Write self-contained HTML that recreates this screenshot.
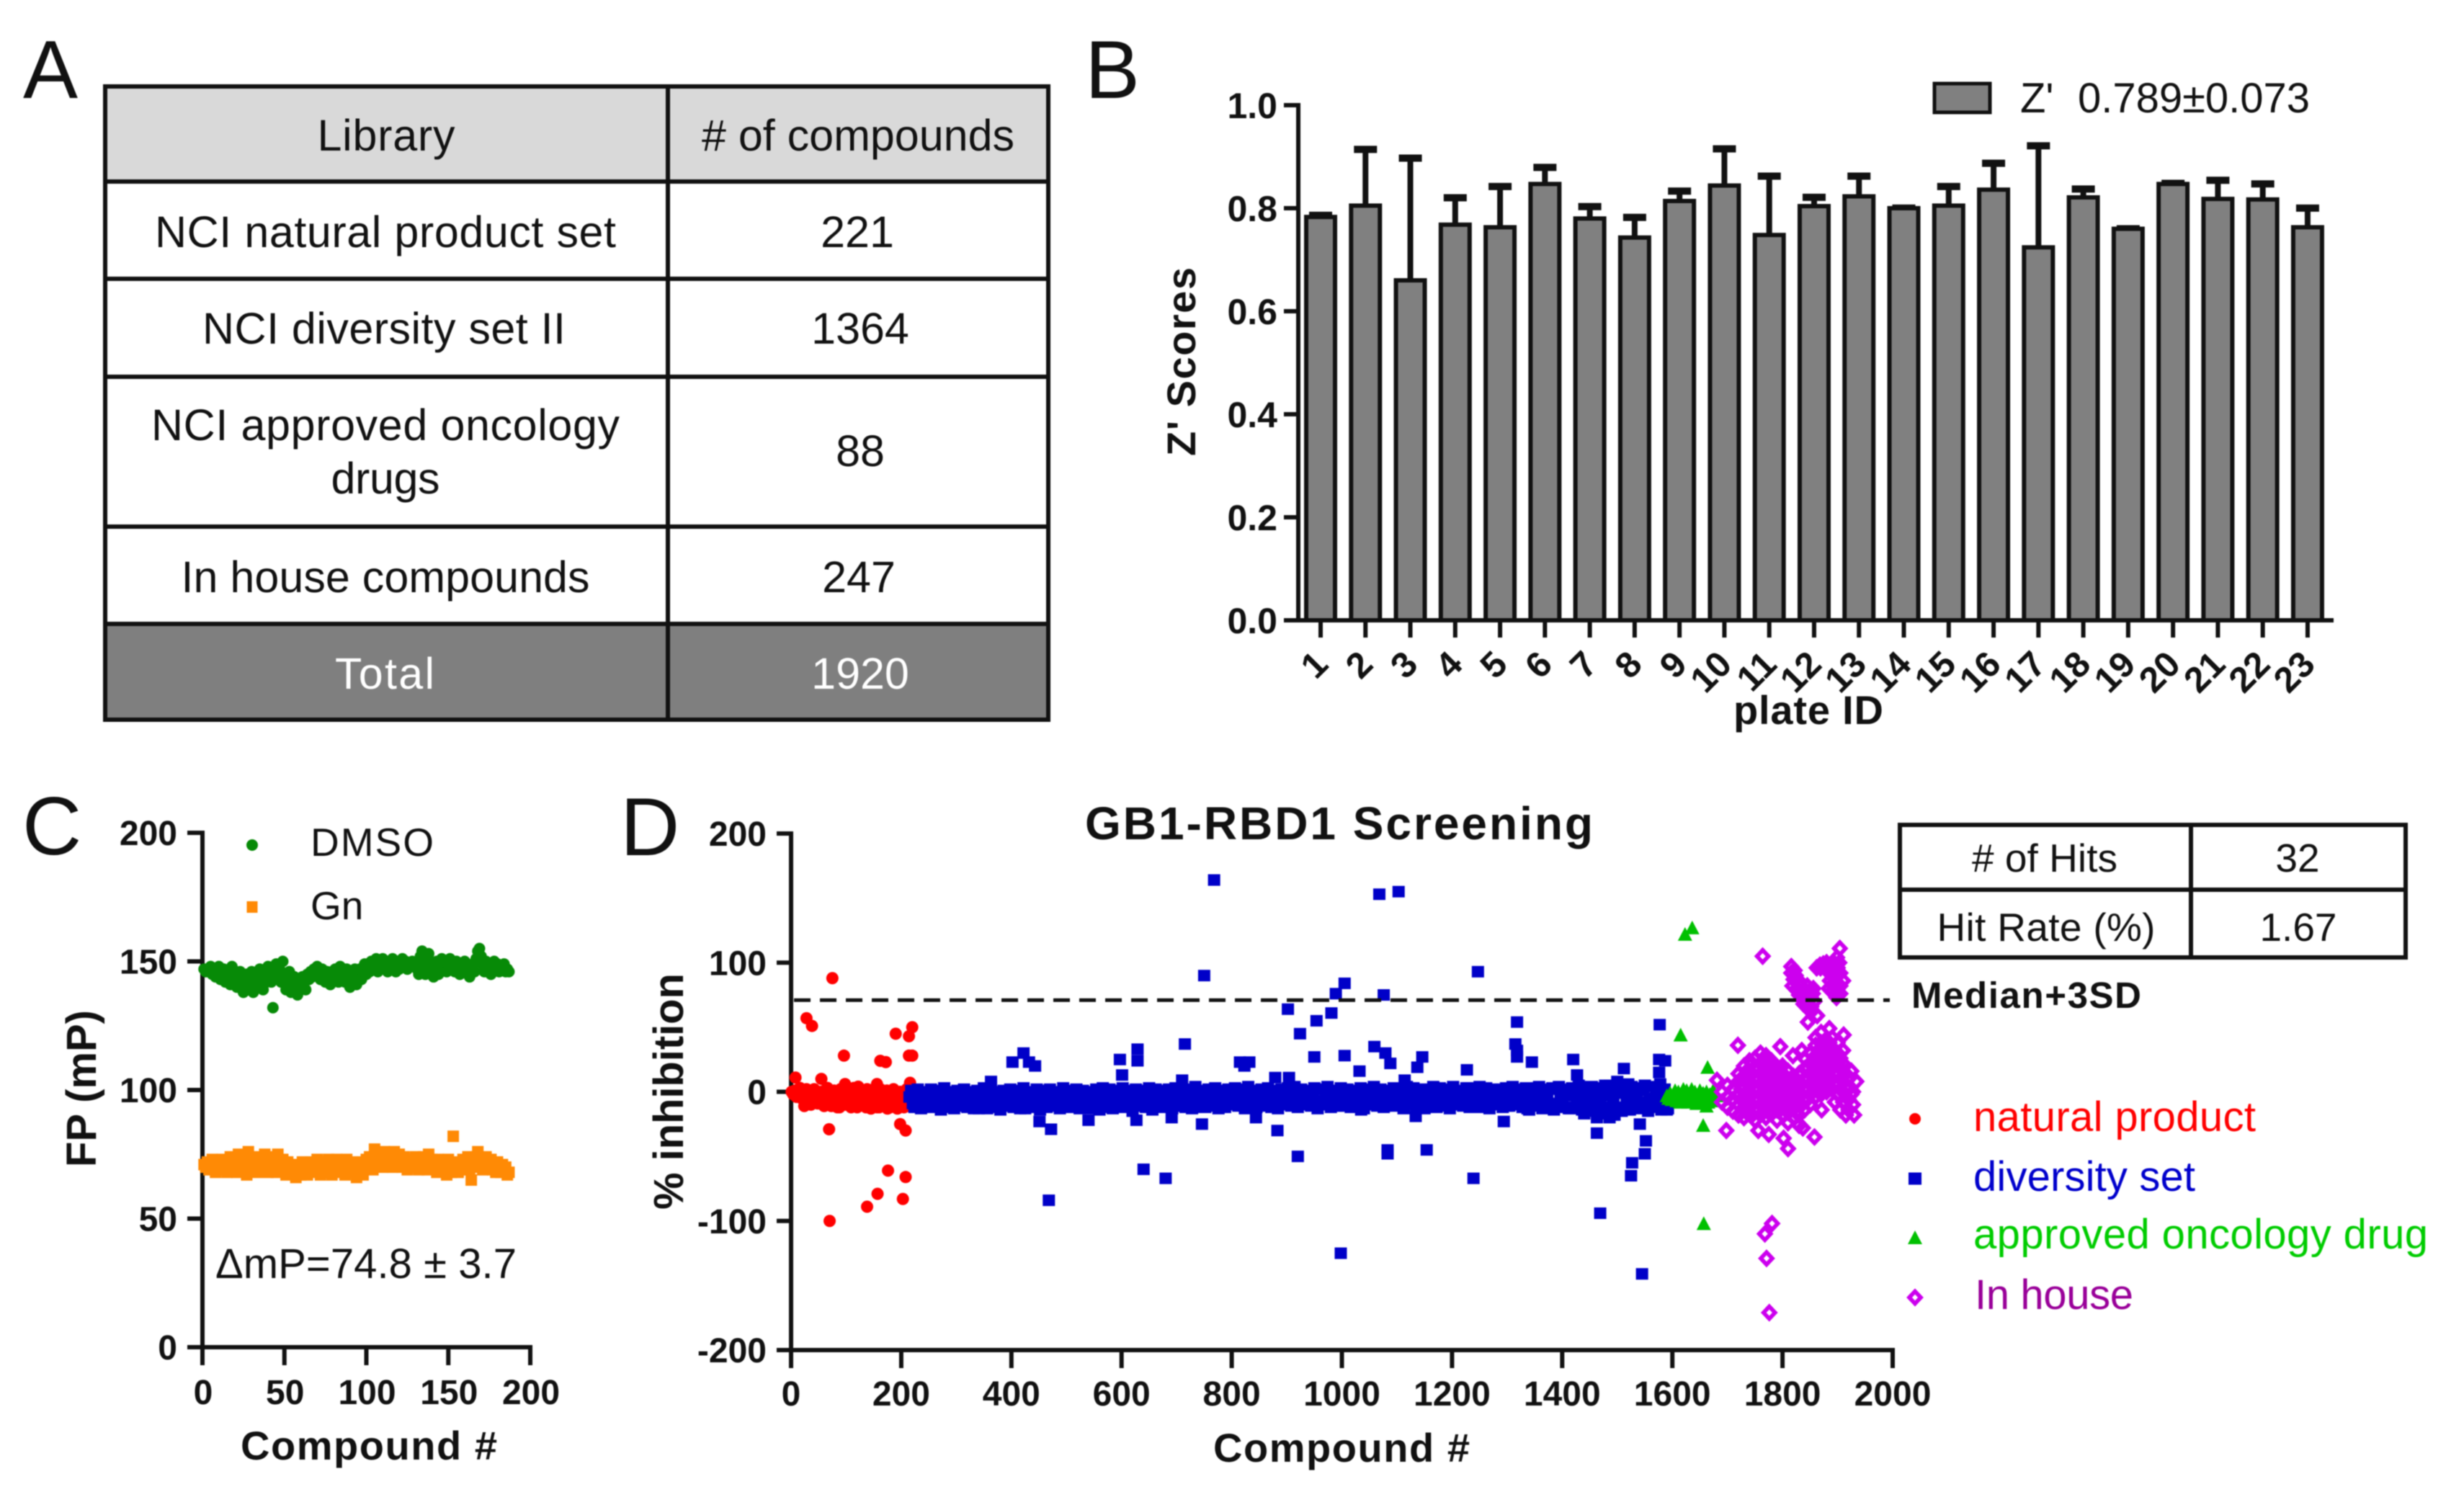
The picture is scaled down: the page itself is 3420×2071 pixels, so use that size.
<!DOCTYPE html>
<html lang="en">
<head>
<meta charset="utf-8">
<title>GB1-RBD1 screening figure</title>
<style>
html,body{margin:0;padding:0;background:#fff;width:3420px;height:2071px;overflow:hidden}
svg{display:block;filter:blur(.8px)}
text{font-family:"Liberation Sans",Arial,sans-serif;fill:#111}
.b{font-weight:bold}
.t{font-size:61px;text-anchor:middle}
.panel{font-size:114px}
</style>
</head>
<body>
<svg id="fig" xmlns="http://www.w3.org/2000/svg" width="3420" height="2071" viewBox="0 0 3420 2071">
<rect width="3420" height="2071" fill="#fff"/>

<text class="panel" x="32" y="136">A</text>
<text class="panel" x="1506" y="136">B</text>
<text class="panel" x="31" y="1186">C</text>
<text class="panel" x="861" y="1187">D</text>

<g>
  <rect x="143" y="117" width="1314" height="135" fill="#d9d9d9"/>
  <rect x="143" y="866" width="1314" height="134" fill="#7f7f7f"/>
  <g stroke="#111" stroke-width="6" fill="none">
    <rect x="146" y="120" width="1309" height="879"/>
    <line x1="927" y1="117" x2="927" y2="1002"/>
    <line x1="143" y1="252" x2="1457" y2="252"/>
    <line x1="143" y1="387" x2="1457" y2="387"/>
    <line x1="143" y1="523" x2="1457" y2="523"/>
    <line x1="143" y1="731" x2="1457" y2="731"/>
    <line x1="143" y1="866" x2="1457" y2="866"/>
  </g>
  <text class="t" x="536" y="209" textLength="191">Library</text>
  <text class="t" x="1191" y="209" textLength="434"># of compounds</text>
  <text class="t" x="535" y="343" textLength="640">NCI natural product set</text>
  <text class="t" x="1190" y="343">221</text>
  <text class="t" x="533" y="477" textLength="504">NCI diversity set II</text>
  <text class="t" x="1194" y="477">1364</text>
  <text class="t" x="535" y="611" textLength="650">NCI approved oncology</text>
  <text class="t" x="535" y="685" textLength="151">drugs</text>
  <text class="t" x="1194" y="647">88</text>
  <text class="t" x="535" y="822" textLength="567">In house compounds</text>
  <text class="t" x="1192" y="822">247</text>
  <text class="t" x="534" y="956" textLength="138" style="fill:#fff">Total</text>
  <text class="t" x="1194" y="956" style="fill:#fff">1920</text>
</g>

<g id="chartB">
  <rect x="2685" y="116" width="77" height="40" fill="#808080" stroke="#111" stroke-width="5"/>
  <text x="2804" y="156" font-size="58">Z'</text>
  <text x="2884" y="156" font-size="58" textLength="322">0.789±0.073</text>
  <text class="b" transform="translate(1659,502) rotate(-90)" text-anchor="middle" font-size="56" textLength="262">Z' Scores</text>
  <text class="b" x="2510" y="1005" text-anchor="middle" font-size="56" textLength="208">plate ID</text>
</g>

<g id="chartC">
  <text class="b" transform="translate(133,1511) rotate(-90)" text-anchor="middle" font-size="58" textLength="218">FP (mP)</text>
  <text class="b" x="512" y="2026" text-anchor="middle" font-size="56" textLength="356">Compound #</text>
  <text x="431" y="1188" font-size="55" textLength="171">DMSO</text>
  <text x="431" y="1276" font-size="55">Gn</text>
  <text x="299" y="1774" font-size="58" textLength="418">ΔmP=74.8 ± 3.7</text>
</g>

<g id="chartD">
  <text class="b" x="1506" y="1165" font-size="64" textLength="705">GB1-RBD1 Screening</text>
  <text class="b" transform="translate(948,1515) rotate(-90)" text-anchor="middle" font-size="58" textLength="328">% inhibition</text>
  <text class="b" x="1862" y="2029" text-anchor="middle" font-size="56" textLength="356">Compound #</text>
  <text class="b" x="2653" y="1399" font-size="51" textLength="319">Median+3SD</text>
  <text x="2739" y="1570" font-size="58" textLength="392" style="fill:#ff0000">natural product</text>
  <text x="2739" y="1653" font-size="58" textLength="308" style="fill:#0000cc">diversity set</text>
  <text x="2739" y="1733" font-size="58" textLength="631" style="fill:#00cc00">approved oncology drug</text>
  <text x="2741" y="1817" font-size="58" textLength="220" style="fill:#990099">In house</text>
</g>

<g>
  <g stroke="#111" stroke-width="6" fill="none">
    <rect x="2637" y="1145" width="702" height="184"/>
    <line x1="3041" y1="1143" x2="3041" y2="1331"/>
    <line x1="2635" y1="1235" x2="3341" y2="1235"/>
  </g>
  <text x="2838" y="1210" text-anchor="middle" font-size="55" textLength="202"># of Hits</text>
  <text x="3189" y="1210" text-anchor="middle" font-size="55">32</text>
  <text x="2840" y="1306" text-anchor="middle" font-size="55" textLength="303">Hit Rate (%)</text>
  <text x="3190" y="1306" text-anchor="middle" font-size="55">1.67</text>
</g>
</svg>

<script>
// ---------- Panel B data ----------
const plateIds = ['1','2','3','4','5','6','7','8','9','10','11','12','13','14','15','16','17','18','19','20','21','22','23'];
const zScores = [.783,.805,.66,.768,.763,.847,.78,.743,.814,.844,.748,.804,.823,.80,.805,.836,.724,.821,.76,.847,.818,.817,.763];
const zErrors = [.006,.112,.24,.055,.082,.035,.026,.042,.022,.074,.117,.02,.042,.003,.04,.054,.2,.019,.003,.004,.039,.033,.04];
const zTickValues = [0,.2,.4,.6,.8,1];
const zTickLabels = ['0.0','0.2','0.4','0.6','0.8','1.0'];

// ---------- Panel C data ----------
const cTickValues = [0,50,100,150,200];
const cTickLabels = ['0','50','100','150','200'];
const dmsoValues = [
147,146,147,146,148,145,147,144,146,148,
143,145,147,142,144,146,141,148,143,145,
140,143,146,141,138,144,145,139,142,146,
138,141,144,140,147,143,139,145,142,148,
144,142,132,146,149,143,147,142,150,145,
139,143,146,138,141,144,140,137,143,141,
144,142,139,145,143,146,144,147,145,148,
146,143,147,145,142,146,144,141,146,143,
147,145,142,148,144,146,142,147,144,140,
146,143,147,141,145,147,143,146,149,145,
148,146,150,147,149,151,146,149,147,151,
148,150,146,149,147,151,148,146,150,147,
149,151,148,150,147,149,148,150,148,149,
147,145,152,154,149,145,150,153,146,148,
144,147,150,145,149,151,147,150,146,149,
151,147,149,146,150,148,145,149,147,150,
146,148,144,147,149,146,151,154,155,152,
149,146,150,147,149,145,148,150,147,149,
146,148,147,149,146,147,146];
const gnValues = [
71,70,72,69,71,73,70,68,72,71,
69,73,70,72,68,71,74,70,69,72,
68,75,71,69,74,70,67,76,72,69,
73,71,68,74,70,72,69,75,71,68,
73,70,74,72,68,75,71,69,73,70,
67,72,70,68,71,69,66,71,70,67,
72,69,71,67,70,72,68,71,69,73,
70,67,72,69,71,68,73,70,67,72,
69,73,71,68,72,70,67,73,69,71,
68,72,70,66,71,69,72,67,71,73,
70,74,72,69,77,74,71,75,73,70,
76,72,75,71,74,70,76,73,71,75,
72,70,74,71,69,73,71,72,70,74,
71,69,73,70,74,72,69,75,71,73,
70,72,68,73,71,69,72,70,67,73,
71,68,82,70,72,68,71,69,73,70,
71,74,69,65,72,70,74,76,73,71,
69,72,74,70,71,73,69,71,68,72,
70,68,71,69,70,67,68];

// ---------- Panel D data ----------
const dYTickValues = [-200,-100,0,100,200];
const dYTickLabels = ['-200','-100','0','100','200'];
const dXTickValues = [0,200,400,600,800,1000,1200,1400,1600,1800,2000];
const dXTickLabels = ['0','200','400','600','800','1000','1200','1400','1600','1800','2000'];
const thresholdValue = 71;

const naturalBandFirstCompound = 1;
const naturalBandCompoundStep = 3;
const naturalBandValues = [
0,-2,1,-4,-1,3,-5,-2,-6,2,
-7,0,-3,-8,1,-5,-9,-2,-6,-10,
-4,2,-8,-3,-11,-6,-1,-9,-4,-12,
-2,-7,3,-10,-5,-1,-12,-6,-9,-3,
-11,-7,1,-10,-5,-12,-2,-8,-13,-4,
2,-9,-6,-12,-3,-10,-7,-1,-13,-5,
-9,-2,-11,-7,-13,-4,-10,-6,-12,-3,
-8,-11];
const naturalRimFirstCompound = 24;
const naturalRimCompoundStep = 6;
const naturalRimValues = [
-11,1,-10,2,-9,0,-11,3,-10,1,
-12,2,-10,0,-11,3,-12,1,-10,2,
-11,0,-12,2,-10,1,-12,2,-11,0,
-10,2];
const naturalOutlierCompounds = [
75,28,38,55,8,96,162,172,190,220,
214,214,220,216,98,122,156,69,198,208,
176,208,157,203,138,70];
const naturalOutlierValues = [
88,57,51,10,11,28,24,23,45,50,
43,28,28,7,6,4,6,-29,-25,-30,
-61,-66,-79,-83,-89,-100];

const diversityBandFirstCompound = 215;
const diversityBandCompoundStep = 6;
const diversityBandValues = [
-4,-9,-2,-11,-6,-1,-8,-12,-3,-7,
-10,-2,-5,-12,-1,-8,-4,-11,-6,-2,
-9,-13,-3,-7,1,-10,-5,-12,-2,-8,
-4,-11,-7,-1,-9,-13,-3,-6,-10,0,
-8,-12,-2,-5,-11,-4,-9,-1,-7,-12,
-3,-10,-6,0,-8,-13,-2,-5,-11,-7,
-1,-9,-4,-12,-2,-7,1,-10,-5,-11,
-3,-8,0,-6,-12,-2,-9,-4,-10,1,
-7,-11,-3,-6,-1,-9,-5,-12,0,-8,
-2,-10,-4,-7,1,-11,-3,-6,-9,-1,
-5,-10,-2,-8,0,-12,-4,-7,-1,-9,
-3,-11,-6,1,-8,-2,-10,-5,-1,-7,
0,-9,-3,-7,2,-10,-4,-8,-1,-6,
1,-11,-3,-5,-9,0,-7,-2,-10,-4,
2,-8,-1,-6,-11,-3,1,-9,-5,-2,
-7,0,-10,-4,-1,-8,2,-6,-3,-11,
-2,-7,1,-9,-4,0,-6,-10,-2,3,
-8,-3,-5,-12,1,-7,-1,-9,-4,2,
-6,-11,0,-3,-8,1,-5,-13,-2,-7,
3,-10,-4,-1,-9,-14,2,-6,-12,-3,
-13,0,-8,4,-5,-14,-2,-10,1,-7,
-15,-3,5,-9,-1,-12,3,-6,-14,-4,
-2,-10,1,-8,-5,-12,-3,-7,-11,-6];
const diversityUpperRimFirstCompound = 218;
const diversityUpperRimCompoundStep = 12;
const diversityUpperRimValues = [
1,2,0,2,1,3,0,1,2,0,
1,3,2,0,1,2,1,3,0,2,
1,2,0,3,1,2,1,0,2,3,
2,1,3,0,2,1,3,2,1,2,
3,1,2,4,1,2,3,1,2,3,
2,4,1,2,3,1,2,3,4,2,
1,3,2,4,1,3,2,1,3,2,
4,2,1,3,2,4,3,1,2,4,
3,2,4,1,3,2,4,3,2,1,
3,4,2,3,1,4,2,3,4,2,
3,5,2,4,3,5,4,3,2,4,
3,5,4,3,2];
const diversityLowerRimFirstCompound = 224;
const diversityLowerRimCompoundStep = 12;
const diversityLowerRimValues = [
-12,-13,-11,-12,-14,-12,-13,-11,-12,-13,
-11,-13,-12,-14,-11,-12,-13,-11,-12,-14,
-12,-11,-13,-12,-11,-13,-12,-11,-14,-12,
-13,-11,-12,-13,-11,-12,-14,-11,-12,-13,
-11,-12,-13,-10,-12,-11,-13,-12,-10,-11,
-13,-12,-10,-11,-12,-13,-10,-11,-12,-10,
-11,-13,-10,-12,-11,-10,-12,-11,-13,-10,
-11,-12,-10,-11,-13,-10,-12,-11,-10,-12,
-11,-13,-10,-11,-12,-10,-11,-13,-10,-12,
-11,-10,-12,-14,-11,-13,-10,-12,-11,-13,
-12,-14,-13,-15,-12,-14,-13,-15,-14,-12,
-13,-15,-12,-14,-13];
const diversityOutlierCompounds = [
768,750,402,422,432,443,363,597,601,629,
629,715,710,815,823,468,472,451,540,627,
640,680,691,746,1068,1103,1247,1005,989,1076,
902,981,954,924,1318,1577,1315,1318,1318,1059,
1079,1088,950,1005,832,1146,1137,1227,1345,1420,
1576,1587,1576,1512,1427,1032,879,904,1114,883,
920,1083,1083,1154,1239,1463,1469,998,1545,1541,
1552,1550,1527,1525,1294,1463,1486,1440,844,1134,
1500,1520,1578,1590,1475,1495,1340,1150,1035,620];
const diversityOutlierValues = [
164,90,23,30,23,20,8,25,13,33,
24,37,9,23,20,-84,-29,-23,-22,-22,
-60,-67,-20,-25,153,155,93,84,76,75,
64,61,55,45,54,52,37,32,27,35,
30,22,27,28,23,27,19,17,23,25,
25,24,15,18,13,16,11,11,9,-30,
-50,-48,-45,-45,-67,-32,-94,-125,-141,-25,
-38,-48,-55,-65,-23,-20,-20,-17,-20,-19,
8,6,6,-14,-17,-18,-14,-13,-14,-15];

const oncologyBandFirstCompound = 1590;
const oncologyBandCompoundStep = 3;
const oncologyBandValues = [
-3,-5,-1,-6,-2,1,-7,0,-8,-3,
2,-7,1,-8,-2,2,-7,0,-9,-3,
1,-8,-1,-7,0,-8,-2,-6,1,-7,-3];
const oncologyOutlierCompounds = [1636,1623,1615,1664,1656,1657,1662];
const oncologyOutlierValues = [127,122,44,19,-26,-102,-11];

const inHouseCompounds = [
1764,1904,1816,1863,1846,1719,1796,1681,1698,1756,
1775,1802,1810,1837,1858,1871,1930,1781,1768,1771,
1776,1819,1835,1885,1911,1910,1925,1934,
1869,1878,1886,1893,1899,1905,1910,1900,1893,1886,1905,1898,1895,
1816,1820,1824,1818,1826,1832,1830,1836,1840,1845,1838,1845,1850,1852,1858,1856,
1885,1890,1895,1900,1905,1890,1897,1903,1884,1893,
1862,1868,1874,1880,
1822,1828,1834,1840,1846,1852,1835,1843,1849,1855,
1865,1875,1885,1895,1905,1915,1925,1915,1905,1895,
1690,1690,
1700,1700,1700,
1710,1710,1710,
1720,1720,1720,1720,1720,
1730,1730,1730,1730,1730,1730,
1740,1740,1740,1740,1740,1740,
1750,1750,1750,1750,1750,1750,1750,
1760,1760,1760,1760,1760,1760,1760,
1770,1770,1770,1770,1770,1770,1770,
1780,1780,1780,1780,1780,1780,
1790,1790,1790,1790,1790,1790,
1800,1800,1800,1800,1800,1800,
1810,1810,1810,1810,1810,1810,
1820,1820,1820,1820,1820,
1830,1830,1830,1830,1830,1830,
1840,1840,1840,1840,1840,1840,
1850,1850,1850,1850,1850,1850,
1860,1860,1860,1860,1860,1860,1860,
1870,1870,1870,1870,1870,1870,1870,
1880,1880,1880,1880,1880,1880,
1890,1890,1890,1890,1890,1890,
1900,1900,1900,1900,1900,1900,
1910,1910,1910,1910,
1920,1920,1920,1920,
1928,1928,
1725,1725,1725,
1735,1735,1735,1735,1735,
1745,1745,1745,1745,1745,1745,
1755,1755,1755,1755,1755,
1765,1765,1765,1765,1765,1765,
1775,1775,1775,1775,1775,1775,
1785,1785,1785,1785,1785,
1795,1795,1795,1795,1795,
1805,1805,1805,1805,
1815,1815,1815,1815,
1825,1825,1825,1825,
1835,1835,1835,1835,
1845,1845,1845,1845,
1855,1855,1855,1855,
1865,1865,1865,1865,
1875,1875,1875,1875,
1885,1885,1885,1885,
1895,1895,1895,
1905,1905,1905];
const inHouseValues = [
105,111,97,59,54,36,35,9,-30,-30,
-33,-36,-44,-28,-35,-14,-18,-102,-110,-129,
-171,28,32,49,44,32,16,8,
96,98,95,100,104,92,86,80,88,86,76,73,92,
92,87,90,82,80,85,75,78,72,82,68,65,74,62,70,80,
92,98,85,96,82,78,76,100,80,82,
96,98,99,100,
94,84,82,76,70,66,72,74,78,76,
8,10,30,14,26,14,-2,-18,-14,-8,
0,-8,
5,-4,-12,
-15,-6,2,
-18,-10,-2,8,14,
-20,-12,-4,4,12,20,
-16,-8,0,8,16,24,
-22,-14,-6,2,10,18,26,
-18,-10,-2,6,14,22,30,
-20,-12,-4,4,12,20,28,
-16,-8,0,8,16,24,
-22,-14,-6,2,10,18,
-18,-10,-2,6,14,20,
-24,-16,-8,0,8,16,
-20,-12,-4,4,12,
-26,-18,-10,-2,6,14,
-14,-6,2,10,18,26,
-10,-2,6,14,22,30,
-4,4,12,20,28,36,42,
-2,6,14,22,30,38,46,
0,8,16,24,32,40,
2,10,18,26,34,42,
-2,6,14,22,30,38,
-8,0,8,22,
-14,-6,2,10,
-10,0,
-6,2,10,
-16,-8,0,8,16,
-18,-10,-2,6,14,22,
-14,-6,2,10,18,
-16,-8,0,8,16,24,
-16,-8,0,8,16,24,
-12,-4,4,12,20,
-14,-6,2,10,18,
-12,-4,4,12,
-14,-6,2,10,
-16,-8,0,8,
-10,-2,6,14,
-6,2,10,18,
0,8,16,24,
0,16,24,32,
2,18,26,34,
4,12,20,38,
6,22,30,
2,10,18];

// ---------- Drawing helpers ----------
const SVG_NS = 'http://www.w3.org/2000/svg';
const INK = '#111';
function shape(parent, tag, attrs) {
  const el = document.createElementNS(SVG_NS, tag);
  for (const k in attrs) el.setAttribute(k, attrs[k]);
  parent.appendChild(el);
  return el;
}
function label(parent, str, x, y, anchor, size, transform) {
  const el = shape(parent, 'text', {x: x, y: y, 'text-anchor': anchor, 'font-size': size, 'font-weight': 'bold'});
  if (transform) el.setAttribute('transform', transform);
  el.textContent = str;
  return el;
}
function rule(parent, x1, y1, x2, y2, width) {
  return shape(parent, 'line', {x1: x1, y1: y1, x2: x2, y2: y2, stroke: INK, 'stroke-width': width || 6});
}
function dot(parent, x, y, r, color) {
  return shape(parent, 'circle', {cx: x, cy: y, r: r, fill: color});
}
function square(parent, x, y, w, h, color) {
  return shape(parent, 'rect', {x: x - w / 2, y: y - h / 2, width: w, height: h, fill: color});
}
function triangle(parent, x, y, color) {
  return shape(parent, 'polygon', {points: (x - 10) + ',' + (y + 9) + ' ' + x + ',' + (y - 10) + ' ' + (x + 10) + ',' + (y + 9), fill: color});
}
function diamond(parent, x, y, color) {
  return shape(parent, 'polygon', {points: (x - 8) + ',' + y + ' ' + x + ',' + (y - 8.5) + ' ' + (x + 8) + ',' + y + ' ' + x + ',' + (y + 8.5), fill: 'none', stroke: color, 'stroke-width': 5.7});
}

// ---------- Panel B ----------
const gB = document.getElementById('chartB');
const bX = i => 1833 + i * 62.27;
const bY = v => 861 - v * 715;
zScores.forEach((v, i) => {
  const errTop = bY(v + zErrors[i]);
  const stem = rule(gB, bX(i), bY(v), bX(i), errTop, 8);
  
  
  const cap = rule(gB, bX(i) - 16, errTop + 2, bX(i) + 16, errTop + 2, 10);
  
  
  const bar = shape(gB, 'rect', {x: bX(i) - 20, y: bY(v), width: 40, height: bY(0) - bY(v), fill: '#808080', stroke: INK, 'stroke-width': 6});
  
  
});
const bYAxis = rule(gB, 1802, bY(1) - 3, 1802, bY(0) + 3);


const bXAxis = rule(gB, 1782, bY(0), 3239, bY(0));


zTickValues.forEach((v, i) => {
  const t = rule(gB, 1782, bY(v), 1802, bY(v));
  
  
  const l = label(gB, zTickLabels[i], 1773, bY(v) + 18, 'end', 50);
  
  
});
plateIds.forEach((id, i) => {
  const t = rule(gB, bX(i), bY(0), bX(i), 885);
  
  
  const ax = bX(i) + 13, ay = 925;
  const l = label(gB, id, ax, ay, 'end', 50, 'rotate(-45 ' + ax + ' ' + ay + ')');
  
  
});

// ---------- Panel C ----------
const gC = document.getElementById('chartC');
const cX = v => 281 + v * 2.275;
const cY = v => 1870 - v * 3.57;
const cYAxis = rule(gC, cX(0), cY(200) - 3, cX(0), cY(0) + 3);


const cXAxis = rule(gC, cX(0), cY(0), cX(200) + 3, cY(0));


cTickValues.forEach((v, i) => {
  const ty = rule(gC, 260, cY(v), cX(0), cY(v));
  
  
  const ly = label(gC, cTickLabels[i], 246, cY(v) + 17, 'end', 48);
  
  
  const tx = rule(gC, cX(v), cY(0), cX(v), 1895);
  
  
  const lx = label(gC, cTickLabels[i], cX(v) + 1, 1949, 'middle', 48);
  
  
});
const GREEN_DARK = '#078a07', ORANGE = '#ff8a05';
dmsoValues.forEach((v, i) => {
  const m = dot(gC, cX(i + 1), cY(v), 8, GREEN_DARK);
  
  
});
gnValues.forEach((v, i) => {
  const m = square(gC, cX(i + 1), cY(v), 16, 16, ORANGE);
  
  
});
const dmsoKey = dot(gC, 350, 1173, 8, GREEN_DARK);


const gnKey = square(gC, 350, 1259, 15, 16, ORANGE);



// ---------- Panel D ----------
const gD = document.getElementById('chartD');
const dX = v => 1098 + v * 0.7645;
const dY = v => 1515.5 - v * 1.7925;
const RED = '#ff0000', BLUE = '#0000c8', GREEN = '#00c000', MAGENTA = '#cc00ee';
const dYAxis = rule(gD, dX(0), dY(200) - 3, dX(0), dY(-200) + 3);


const dXAxis = rule(gD, dX(0), dY(-200), dX(2000) + 3, dY(-200));


dYTickValues.forEach((v, i) => {
  const t = rule(gD, 1078, dY(v), dX(0), dY(v));
  
  
  const l = label(gD, dYTickLabels[i], 1064, dY(v) + 17, 'end', 48);
  
  
});
dXTickValues.forEach((v, i) => {
  const t = rule(gD, dX(v), dY(-200), dX(v), 1899);
  
  
  const l = label(gD, dXTickLabels[i], dX(v), 1951, 'middle', 48);
  
  
});
naturalBandValues.forEach((v, i) => {
  const m = dot(gD, dX(naturalBandFirstCompound + i * naturalBandCompoundStep), dY(v), 8.5, RED);
  
  
});
naturalRimValues.forEach((v, i) => {
  const m = dot(gD, dX(naturalRimFirstCompound + i * naturalRimCompoundStep), dY(v), 8.5, RED);
  
  
});
naturalOutlierValues.forEach((v, i) => {
  const m = dot(gD, dX(naturalOutlierCompounds[i]), dY(v), 8.5, RED);
  
  
});
diversityBandValues.forEach((v, i) => {
  const m = square(gD, dX(diversityBandFirstCompound + i * diversityBandCompoundStep), dY(v), 17, 16, BLUE);
  
  
});
diversityUpperRimValues.forEach((v, i) => {
  const m = square(gD, dX(diversityUpperRimFirstCompound + i * diversityUpperRimCompoundStep), dY(v), 17, 16, BLUE);
  
  
});
diversityLowerRimValues.forEach((v, i) => {
  const m = square(gD, dX(diversityLowerRimFirstCompound + i * diversityLowerRimCompoundStep), dY(v), 17, 16, BLUE);
  
  
});
diversityOutlierValues.forEach((v, i) => {
  const m = square(gD, dX(diversityOutlierCompounds[i]), dY(v), 17, 16, BLUE);
  
  
});
oncologyBandValues.forEach((v, i) => {
  const m = triangle(gD, dX(oncologyBandFirstCompound + i * oncologyBandCompoundStep), dY(v), GREEN);
  
  
});
oncologyOutlierValues.forEach((v, i) => {
  const m = triangle(gD, dX(oncologyOutlierCompounds[i]), dY(v), GREEN);
  
  
});
inHouseValues.forEach((v, i) => {
  const m = diamond(gD, dX(inHouseCompounds[i]), dY(v), MAGENTA);
  
  
});
const threshold = rule(gD, dX(0) + 4, dY(thresholdValue), 2623, dY(thresholdValue), 5);
threshold.setAttribute('stroke-dasharray', '23 13');


const natKey = dot(gD, 2658, 1553, 8, RED);


const divKey = square(gD, 2658, 1636, 18, 17, BLUE);


const oncKey = triangle(gD, 2658, 1718, GREEN);


const houseKey = diamond(gD, 2658, 1801, MAGENTA);


</script>
</body>
</html>
